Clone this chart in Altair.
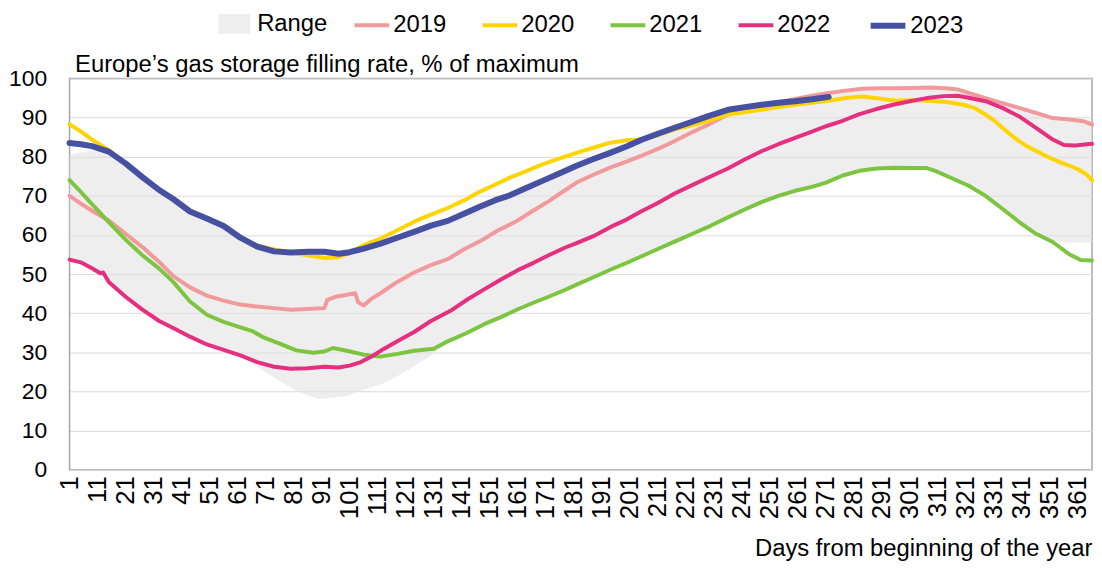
import altair as alt
import pandas as pd

# ---------------- data ----------------
years = ["2019", "2020", "2021", "2022", "2023"]
colors = ["#F29A9B", "#FFD400", "#7DC540", "#E5307F", "#4652A1"]
widths = [4, 4, 4, 4, 6]

days_2019 = [1, 5, 9, 15, 21, 27, 33, 38, 44, 50, 56, 62, 68, 74, 80, 86, 92, 93, 96, 99,
             103, 104, 106, 109, 112, 118, 124, 130, 136, 142, 148, 154, 160, 166, 172, 178, 182, 188, 194, 200,
             205, 211, 217, 223, 229, 236, 242, 248, 254, 260, 266, 272, 278, 284, 290, 296, 302, 308, 314, 318,
             322, 328, 334, 340, 346, 352, 358, 363, 366]
vals_2019 = [70.0, 68.0, 66.2, 63.7, 60.3, 56.9, 53.1, 49.5, 46.6, 44.5, 43.2, 42.2, 41.7, 41.3, 40.9, 41.1, 41.3, 43.4, 44.2, 44.6,
             45.1, 42.8, 42.0, 43.8, 45.1, 48.0, 50.4, 52.3, 53.8, 56.4, 58.6, 61.2, 63.3, 66.0, 68.6, 71.5, 73.4, 75.4, 77.2, 78.8,
             80.2, 82.0, 84.0, 86.2, 88.2, 90.8, 92.0, 92.9, 93.9, 94.8, 95.6, 96.3, 96.9, 97.4, 97.5, 97.5, 97.6, 97.7, 97.5, 97.2,
             96.3, 95.0, 93.7, 92.5, 91.2, 89.9, 89.5, 89.1, 88.2]

days_2020 = [1, 5, 9, 15, 21, 27, 33, 38, 44, 50, 56, 62, 68, 74, 80, 86, 92, 97, 101, 106,
             112, 118, 124, 130, 136, 142, 147, 153, 158, 164, 170, 176, 182, 188, 194, 200, 205, 211, 217, 223,
             229, 236, 242, 248, 254, 260, 266, 272, 278, 284, 290, 296, 302, 308, 314, 320, 324, 328, 331, 334,
             337, 340, 343, 346, 349, 352, 355, 358, 361, 364, 366]
vals_2020 = [88.3, 86.5, 84.4, 81.7, 78.2, 74.6, 71.3, 69.0, 66.2, 64.3, 62.5, 59.5, 57.3, 56.3, 55.5, 54.8, 54.1, 54.3, 55.5, 57.4,
             59.1, 61.2, 63.4, 65.2, 66.9, 68.9, 70.9, 72.9, 74.6, 76.3, 78.1, 79.6, 81.0, 82.3, 83.6, 84.2, 84.4, 85.5, 87.0, 88.0,
             89.2, 90.8, 91.4, 92.0, 92.7, 93.3, 93.8, 94.3, 95.0, 95.4, 94.9, 94.3, 94.5, 94.3, 94.0, 93.3, 92.5, 90.8, 89.3, 87.4,
             85.6, 84.0, 82.6, 81.5, 80.4, 79.4, 78.5, 77.7, 76.8, 75.5, 74.0]

days_2021 = [1, 5, 9, 15, 21, 27, 33, 38, 44, 50, 56, 62, 66, 70, 76, 82, 88, 92, 95, 100,
             106, 112, 118, 124, 131, 136, 143, 149, 155, 161, 167, 172, 178, 182, 188, 194, 200, 205, 211, 217,
             224, 230, 236, 242, 248, 254, 260, 266, 271, 277, 283, 289, 295, 301, 307, 310, 316, 322, 328, 334,
             340, 346, 352, 358, 362, 366]
vals_2021 = [74.0, 71.0, 67.9, 63.3, 58.8, 54.8, 51.4, 48.0, 43.0, 39.6, 37.8, 36.4, 35.5, 33.9, 32.2, 30.5, 29.9, 30.2, 31.1, 30.4,
             29.4, 28.9, 29.6, 30.4, 30.9, 32.8, 35.0, 37.2, 39.0, 41.0, 42.8, 44.2, 46.0, 47.3, 49.2, 51.1, 52.9, 54.5, 56.4, 58.3,
             60.5, 62.4, 64.5, 66.5, 68.4, 70.0, 71.3, 72.3, 73.4, 75.2, 76.4, 77.0, 77.2, 77.1, 77.1, 76.4, 74.5, 72.6, 70.0, 66.7,
             63.3, 60.3, 58.2, 55.0, 53.6, 53.5]

days_2022 = [1, 5, 9, 12, 13, 15, 21, 27, 33, 38, 44, 50, 56, 62, 68, 74, 80, 86, 92, 97,
             101, 105, 109, 113, 118, 124, 130, 137, 143, 149, 155, 161, 167, 172, 178, 182, 188, 194, 200, 205,
             211, 217, 224, 230, 236, 242, 248, 254, 260, 266, 271, 277, 283, 289, 295, 301, 307, 313, 318, 322,
             328, 334, 340, 346, 352, 356, 360, 366]
vals_2022 = [53.7, 53.0, 51.5, 50.2, 50.4, 48.0, 44.2, 40.9, 38.0, 36.2, 34.0, 32.0, 30.6, 29.2, 27.5, 26.3, 25.8, 25.9, 26.3, 26.1,
             26.6, 27.5, 29.0, 30.8, 32.8, 35.2, 38.0, 40.6, 43.5, 46.1, 48.6, 51.0, 53.0, 54.8, 56.8, 57.9, 59.7, 62.0, 64.0, 66.0,
             68.2, 70.6, 73.0, 75.0, 77.0, 79.3, 81.4, 83.2, 84.8, 86.4, 87.8, 89.2, 90.9, 92.2, 93.3, 94.2, 95.0, 95.5, 95.6, 95.1,
             94.2, 92.5, 90.3, 87.4, 84.4, 83.0, 82.9, 83.3]

days_2023 = [1, 5, 9, 15, 21, 27, 33, 38, 44, 50, 56, 62, 68, 74, 80, 86, 92, 97, 101, 106,
             112, 118, 124, 130, 136, 142, 147, 153, 158, 164, 170, 176, 182, 188, 194, 200, 205, 211, 217, 223,
             229, 236, 242, 248, 254, 260, 266, 272]
vals_2023 = [83.5, 83.2, 82.7, 81.3, 78.3, 74.8, 71.5, 69.2, 66.0, 64.2, 62.3, 59.3, 57.0, 55.8, 55.5, 55.7, 55.7, 55.2, 55.6, 56.5,
             57.8, 59.3, 60.8, 62.4, 63.6, 65.5, 67.1, 68.9, 70.1, 72.0, 73.9, 75.8, 77.7, 79.4, 81.0, 82.7, 84.3, 85.9, 87.4, 88.9,
             90.4, 92.0, 92.7, 93.3, 93.8, 94.2, 94.7, 95.3]

band_days = [1, 8, 15, 21, 27, 33, 44, 56, 62, 66, 71, 77, 83, 90, 100, 106, 112, 118, 124, 129,
             134, 137, 149, 161, 172, 182, 194, 205, 217, 230, 242, 254, 266, 277, 289, 301, 310, 322, 334, 346,
             352, 358, 366]
band_low = [53.5, 52.3, 48.0, 44.0, 40.8, 37.8, 33.8, 30.2, 28.8, 27.2, 24.9, 22.3, 19.8, 18.0, 18.8, 20.4, 21.8, 23.9, 26.5, 28.6,
            31.4, 32.8, 37.2, 41.0, 44.2, 47.3, 51.1, 54.5, 58.3, 62.4, 66.5, 70.0, 72.3, 75.2, 77.0, 77.1, 76.4, 72.6, 66.7, 60.3,
            58.5, 58.0, 58.0]
band_high = [80.5, 81.5, 81.3, 78.3, 74.8, 71.5, 66.0, 62.3, 59.3, 57.6, 56.5, 55.6, 55.5, 55.7, 55.6, 56.5, 57.8, 59.3, 60.8, 62.2,
             63.2, 64.0, 67.9, 71.2, 74.5, 77.7, 81.0, 84.3, 87.4, 90.6, 92.7, 93.9, 95.6, 96.8, 97.5, 97.6, 97.6, 96.3, 93.7, 91.2,
             89.9, 89.5, 88.2]

x_ticks = list(range(1, 362, 10))
y_ticks = list(range(0, 101, 10))

# ---------------- tables ----------------
series = [(years[0], days_2019, vals_2019), (years[1], days_2020, vals_2020),
          (years[2], days_2021, vals_2021), (years[3], days_2022, vals_2022),
          (years[4], days_2023, vals_2023)]
rows = []
for name, ds, vs in series:
    for d, v in zip(ds, vs):
        rows.append({"year": name, "day": d, "value": v})
lines_df = pd.DataFrame(rows)
band_df = pd.DataFrame({"day": band_days, "low": band_low, "high": band_high})
band_df["series"] = "Range"

FONT = "Liberation Sans"

x_scale = alt.Scale(domain=[1, 366], nice=False, zero=False)
y_scale = alt.Scale(domain=[0, 100], nice=False, zero=True)

x_axis = alt.Axis(values=x_ticks, labelAngle=-90, ticks=False, domain=False, grid=False,
                  labelPadding=6, labelFontSize=26, labelOverlap=False, labelFlush=False,
                  labelColor="#000000",
                  title="Days from beginning of the year", titleAnchor="end", titleAlign="right",
                  titleX=1030, titleY=86, titleBaseline="alphabetic", titleFontSize=24,
                  titleFontWeight="normal", titleColor="#000000")

y_axis = alt.Axis(values=y_ticks, ticks=False, domain=False, grid=True, gridColor="#dadada",
                  gridWidth=1, labelPadding=23, labelFontSize=23, labelColor="#000000",
                  labelOverlap=False,
                  title="Europe\u2019s gas storage filling rate, % of maximum", titleAngle=0,
                  titleAlign="left", titleX=5, titleY=-7, titleBaseline="alphabetic",
                  titleFontSize=24, titleFontWeight="normal", titleColor="#000000")

band = alt.Chart(band_df).mark_area(opacity=0.6, interpolate="linear").encode(
    x=alt.X("day:Q", scale=x_scale, axis=x_axis),
    y=alt.Y("low:Q", scale=y_scale, axis=y_axis),
    y2="high:Q",
    fill=alt.Fill("series:N", scale=alt.Scale(domain=["Range"], range=["#e2e2e2"]),
                  legend=alt.Legend(title=None, orient="none", legendX=154, legendY=-67,
                                    symbolType="M-1.6,-1H1.6V1H-1.6Z", symbolSize=400,
                                    labelOffset=11, labelFontSize=24, labelColor="#000000",
                                    padding=0, symbolStrokeWidth=0)),
)

line_legend = alt.Legend(title=None, orient="none", direction="horizontal", legendX=285, legendY=-74,
                         symbolType="stroke", symbolSize=1225, labelOffset=2, labelFontSize=24,
                         labelColor="#000000", columnPadding=28, padding=0)

lines = alt.Chart(lines_df).mark_line(strokeJoin="round", strokeCap="round").encode(
    x=alt.X("day:Q", scale=x_scale, axis=x_axis),
    y=alt.Y("value:Q", scale=y_scale, axis=y_axis),
    stroke=alt.Stroke("year:N", scale=alt.Scale(domain=years, range=colors), legend=line_legend),
    strokeWidth=alt.StrokeWidth("year:N", scale=alt.Scale(type="ordinal", domain=years, range=widths),
                                legend=line_legend),
)

chart = alt.layer(band, lines).properties(
    width=1030, height=394,
    padding={"left": 62, "top": 69, "right": 2, "bottom": 92},
    autosize=alt.AutoSizeParams(type="none"),
).configure(font=FONT).configure_view(stroke="#a6a6a6", strokeWidth=1.5)

chart.save("out.html", embed_options={"renderer": "svg", "actions": False})
